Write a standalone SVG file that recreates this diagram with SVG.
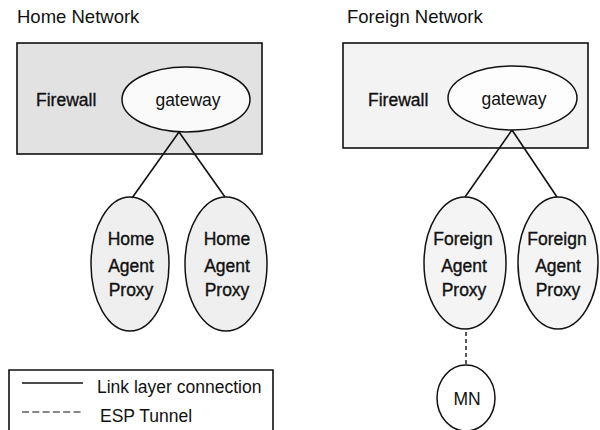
<svg xmlns="http://www.w3.org/2000/svg" width="600" height="430" viewBox="0 0 600 430">
<style>
text{font-family:"Liberation Sans",Arial,Helvetica,sans-serif;font-size:17.5px;fill:#111}
.title{font-size:18.5px}
.lbl{stroke:#111;stroke-width:0.35}
.mid{text-anchor:middle}
.box{stroke:#111;stroke-width:1.6}
.ell{stroke:#111;stroke-width:1.5}
.link{stroke:#111;stroke-width:1.6;fill:none}
.esp{stroke:#111;stroke-width:1.4;fill:none;stroke-dasharray:4 3}
.espl{stroke:#111;stroke-width:1.2;fill:none;stroke-dasharray:7 3.3}
</style>
<rect width="600" height="430" fill="#fff"/>
<text class="title" x="17" y="23">Home Network</text>
<text class="title" x="347" y="23">Foreign Network</text>

<g id="home-firewall">
<rect class="box" x="17" y="43" width="245" height="111" fill="#e2e2e2"/>
<text class="lbl" x="36" y="106">Firewall</text>
</g>
<g id="home-gateway">
<ellipse class="ell" cx="186" cy="99.5" rx="64" ry="32.5" fill="#fafafa"/>
<text class="mid" x="188" y="106">gateway</text>
</g>
<g id="home-agent-1">
<ellipse class="ell" cx="130" cy="264" rx="39" ry="67" fill="#efefef"/>
<text class="mid lbl" x="131" y="245">Home</text>
<text class="mid lbl" x="131" y="272">Agent</text>
<text class="mid lbl" x="131" y="296">Proxy</text>
</g>
<g id="home-agent-2">
<ellipse class="ell" cx="226" cy="264" rx="41" ry="67" fill="#efefef"/>
<text class="mid lbl" x="227" y="245">Home</text>
<text class="mid lbl" x="227" y="272">Agent</text>
<text class="mid lbl" x="227" y="296">Proxy</text>
</g>

<g id="foreign-firewall">
<rect class="box" x="343" y="43" width="245" height="105" fill="#f3f3f3"/>
<text class="lbl" x="368" y="106">Firewall</text>
</g>
<g id="foreign-gateway">
<ellipse class="ell" cx="512.5" cy="98" rx="64.5" ry="32" fill="#fdfdfd"/>
<text class="mid" x="514" y="105">gateway</text>
</g>
<g id="foreign-agent-1">
<ellipse class="ell" cx="465" cy="263" rx="41" ry="66" fill="#f4f4f4"/>
<text class="mid lbl" x="463" y="245">Foreign</text>
<text class="mid lbl" x="464" y="272">Agent</text>
<text class="mid lbl" x="464" y="296">Proxy</text>
</g>
<g id="foreign-agent-2">
<ellipse class="ell" cx="558" cy="263" rx="40" ry="66" fill="#f4f4f4"/>
<text class="mid lbl" x="557" y="245">Foreign</text>
<text class="mid lbl" x="558" y="272">Agent</text>
<text class="mid lbl" x="558" y="296">Proxy</text>
</g>
<g id="mn">
<ellipse class="ell" cx="466" cy="398" rx="29" ry="33" fill="#fff"/>
<text class="mid" x="467" y="405">MN</text>
</g>

<g id="connectors">
<line class="link" x1="179" y1="132" x2="132" y2="198"/>
<line class="link" x1="179" y1="132" x2="225" y2="197"/>
<line class="link" x1="512" y1="130" x2="465" y2="197"/>
<line class="link" x1="512" y1="130" x2="557" y2="197"/>
<line class="esp" x1="466" y1="332" x2="466" y2="365"/>
</g>

<g id="legend">
<path class="box" d="M9 440 V370 H273 V440" fill="none"/>
<line class="link" x1="22" y1="383" x2="83" y2="383"/>
<text x="97" y="393">Link layer connection</text>
<line class="espl" x1="22" y1="412" x2="83" y2="412"/>
<text x="100" y="422">ESP Tunnel</text>
</g>
</svg>
